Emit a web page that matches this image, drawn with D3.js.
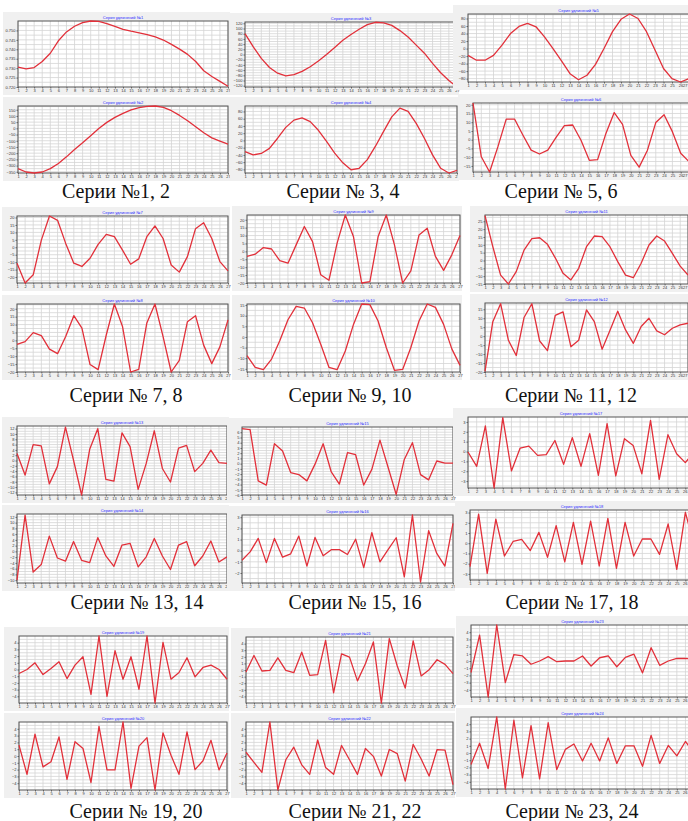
<!DOCTYPE html>
<html><head><meta charset="utf-8">
<script src="https://cdn.jsdelivr.net/npm/d3@7"></script>
<style>body{margin:0;background:#fff}svg{display:block}</style>
</head><body><svg id="c" width="688" height="821"></svg>
<script>
const xCats = [1,2,3,4,5,6,7,8,9,10,11,12,13,14,15,16,17,18,19,20,21,22,23,24,25,26,27];
const s1 = [0.7305,0.7296,0.7303,0.7335,0.7379,0.7445,0.7492,0.7522,0.7541,0.7550,0.7548,0.7536,0.7522,0.7506,0.7496,0.7487,0.7478,0.7466,0.7449,0.7426,0.7401,0.7373,0.7335,0.7286,0.7256,0.7230,0.7204];
const s2 = [-325,-352,-360,-352,-325,-284,-230,-171,-117,-60,-1,48,88,121,148,167,177,180,169,142,104,61,13,-36,-77,-103,-128];
const s3 = [80,30,-15,-50,-72,-82,-77,-65,-47,-25,0,27,55,77,97,115,124,122,112,92,67,36,5,-34,-70,-100,-125];
const s4 = [-31,-40,-36,-22,6,36,56,62,52,28,-3,-35,-62,-81,-77,-53,-16,25,65,89,80,47,6,-40,-77,-90,-83];
const s5 = [-18,-31,-31,-18,9,40,59,67,58,31,0,-33,-67,-83,-71,-42,0,45,78,92,80,45,-4,-53,-80,-89,-80];
const s6 = [21,-9.8,-18.5,-4.0,11.8,11.8,2.7,-6.0,-8.2,-6.0,1.3,8.0,8.4,-0.3,-11.8,-11.4,3.6,15.5,8.8,-9.0,-15.7,-6.0,9.8,14.3,4.6,-7.8,-12.6];
const s7 = [-10.7,-24,-18.5,4.8,21,18.1,2.6,-10.7,-12.9,-7.4,1.9,8.6,7.1,-1.9,-11.4,-7.8,7.1,14.3,5.9,-11.9,-16.7,-6.3,12.5,16.5,5.9,-9.6,-15.9];
const s8 = [-2.5,-0.8,4.9,3.0,-5.5,-8.4,2.4,15.6,7.7,-15.3,-18.5,3.4,23,8.8,-20,-18.3,11,23,2.4,-20,-12.6,11.8,15.6,-3,-14.7,-4.1,13];
const s9 = [-3.2,-1.8,2.4,1.5,-5.9,-7.5,4.1,15.7,6.2,-14.8,-18.3,5.2,23,9.2,-20,-19.1,9.2,23,4.1,-20,-12.3,10.4,14.6,-3.2,-12,-2.2,10.1];
const s10 = [-8.8,-14.3,-15.4,-10.4,-1.8,8.1,14.4,13.6,6.7,-3.4,-14.3,-15.4,-6.6,5.9,15.5,15.2,7.5,-5,-15.7,-15.3,-5,7.5,15.5,13.9,5.9,-5.6,-13.4];
const s11 = [28.6,8.8,-9.3,-15,-7.1,6.6,14,14.5,10.3,1.7,-8.2,-12.4,-5,8.8,15.6,15.2,8.8,-0.7,-9.3,-11,-1.8,9.9,15.6,12.4,4.5,-3.6,-9.3];
const s12 = [-19.6,8.1,18.1,-2.3,-10.8,10.4,18.1,-2.7,-8.1,11.6,13.5,-5.9,-2.3,14.7,8.1,-7.3,3.1,13.9,3.5,-4,5.4,10,2.9,0.8,4.4,6.3,7.2];
const s13 = [2.6,-5.5,6,5.5,-8.8,-2.3,12.6,0.1,-13,4.2,12,-7.1,-7.8,10.4,5.2,-10.9,-1.1,11.2,-3,-8.1,4.7,5.7,-4.2,-1.1,3.9,-0.8,-1.1];
const s14 = [-10,12.6,-7.2,-4.6,5.3,-2.3,-3.4,3.4,-3.1,-3.9,4.8,-1.6,-5.2,2.2,2.8,-5.4,-1.9,4.5,-1.6,-6.3,2.2,3.4,-5,-1.6,3.6,-3.7,-1.9];
const s15 = [6.7,6.5,-3.3,-4.1,3.8,2.4,-1.7,-2.1,-3.3,-0.1,3.8,-1.6,-3.9,2.1,1.7,-4.1,-1.1,4.5,-0.7,-5.9,0.8,4,-2.1,-3.1,0.5,0.1,0.1];
const s16 = [-0.86,-0.11,1.1,-1.07,1.1,-0.58,-0.28,1.31,-1.38,1.19,-0.46,0.09,0.09,-0.34,1.03,-1.52,1.61,-1.01,0.09,1.16,-2.35,3.2,-2.81,1.8,-0.25,-1.38,2.45];
const s17 = [-0.05,-1.5,2.59,-3.7,3.43,-1.97,0.35,0.55,-0.39,-0.32,1.12,-1.3,1.41,-1.5,1.81,-2.42,2.82,-2.48,1.3,0.62,-2.26,3.16,-2.82,1.7,-0.22,-1.13,-0.05];
const s18 = [-2.3,2.84,-2.95,2.36,-1.25,0.17,0.37,-0.72,1.06,-1.38,1.72,-1.82,2.04,-2.07,2.17,-2.23,2.43,-2.46,2.04,-1.25,0.41,0.41,-1.09,1.88,-2.56,3.02,-0.18];
const s19 = [-0.6,0,1,-0.75,0.15,1.15,-1.35,0.65,1.9,-3.7,5,-4,2.8,-1.45,1.9,-2.95,5,-5,4.05,-1.45,-0.45,1.75,-1.1,0.3,0.65,0,-1.45];
const s20 = [1.6,-2.7,3.2,-1.6,-0.85,2.8,-3.45,2.1,1.1,-3.9,4.35,-2.05,-2.05,5,-4.75,1.45,2.7,-5,3.4,0.1,-2.7,3.55,-2,-0.7,2.3,-2.05,0.45];
const s21 = [-0.3,2.2,-0.15,-0.05,1.85,-0.05,-0.4,2.7,-0.8,-0.7,4.5,-3.45,2.45,1.95,-1.65,0.95,4.25,-5,4.75,0.6,-2.75,4.4,-0.9,0.05,1.55,0.85,-0.55];
const s22 = [0.55,-0.95,-2.4,5,-5,-0.55,1.3,-1.3,-2.7,2.35,-1.7,-2.7,1.55,-0.55,-2.7,1.1,-0.05,-2.95,0.95,0.35,-3.7,1.7,-0.45,-2.95,0.95,0.85,-4.2];
const s23 = [-1.6,3.6,-5,5,-3,0.9,0.7,-0.45,0,0.6,-0.1,0,0,0.7,-0.7,0.45,0.7,-0.8,0.5,0.95,-1.65,1.85,-0.6,0,0.35,0.35,0.3];
const s24 = [-1.6,1.35,-2.15,5,-5,4.55,-3.45,3.8,-3.6,4.2,-2.3,0.5,1.25,-1.1,1.35,-1.1,2.1,-1.45,1,1,-1.85,2.45,-1.45,1.05,-0.4,1.6,0];
const series = [s1,s2,s3,s4,s5,s6,s7,s8,s9,s10,s11,s12,s13,s14,s15,s16,s17,s18,s19,s20,s21,s22,s23,s24];

const yDomains = [[0.720,0.755],[-360,180],[-125,125],[-90,95],[-89,92],[-18.5,21],[-24,21],[-20,23],[-20,23],[-16.5,15.5],[-15,29],[-20,18.5],
  [-13,13],[-11,13],[-6,7],[-2.9,3.2],[-3.7,3.5],[-3.6,3.25],[-5,5],[-5,5],[-5,5],[-5,5],[-5,5],[-5,5]];
const yTickStart = [0.720,-350,-120,-80,-80,-15,-20,-20,-20,-15,-15,-20,-12,-10,-6,-2,-3,-3,-4,-4,-4,-4,-4,-4];
const yTickEnd   = [0.750,150,120,80,80,20,20,20,20,15,25,15,12,12,6,3,3,3,4,4,4,4,4,4];
const yTickStep  = [0.005,50,20,20,20,5,5,5,5,5,5,5,2,2,1,1,1,1,1,1,1,1,1,1];
const titles = series.map((_, i) => "Серия удлинений №" + (i + 1));
const captions = ["Серии №1, 2","Серии № 3, 4","Серии № 5, 6","Серии № 7, 8","Серии № 9, 10","Серии № 11, 12",
  "Серии № 13, 14","Серии № 15, 16","Серии № 17, 18","Серии № 19, 20","Серии № 21, 22","Серии № 23, 24"];

// layout (plot rectangles x0,y0,x1,y1)
const plots = [
  [18,21,228,87],[18,106,228,173],
  [245,22,457,87],[245,106,457,173],
  [468,14,689,82],[473,103,689,172],
  [17,216,228,283],[17,304,228,372],
  [247,215,460,283],[247,304,460,372],
  [485,215,688,284],[485,303,688,372],
  [17,426,227,495],[17,514,227,583],
  [242,427,453,495],[242,515,453,583],
  [468,417,694,488],[470,510,694,580],
  [19,636,227,703],[19,722,227,790],
  [246,637,453,703],[246,722,453,790],
  [471,625,694,697],[471,717,694,789]
];
const captionPos = [[116,198],[343,198],[561,198],[126,402],[350,402],[571,402],[137,609],[355,609],[572,609],[136,818],[355,818],[572,818]];
const W = 688;

const svg = d3.select("#c");
svg.append("rect").attr("width",688).attr("height",821).attr("fill","#fff");

series.forEach((vals, i) => {
  const [x0,y0,x1,y1] = plots[i];
  const g = svg.append("g");
  g.append("rect").attr("x",x0-15).attr("y",y0-9).attr("width",x1-x0+17).attr("height",y1-y0+17)
    .attr("fill","#f0f0f0");
  g.append("rect").attr("x",x0).attr("y",y0).attr("width",x1-x0).attr("height",y1-y0).attr("fill","#fff");
  const x = d3.scaleLinear().domain([1,27]).range([x0,x1]);
  const y = d3.scaleLinear().domain(yDomains[i]).range([y1,y0]);
  const ticks = d3.range(yTickStart[i], yTickEnd[i] + yTickStep[i]*0.01, yTickStep[i]);
  const half = d3.range(yTickStart[i] - yTickStep[i], yTickEnd[i] + yTickStep[i]*1.01, yTickStep[i]/2)
    .filter(v => v > yDomains[i][0] && v < yDomains[i][1]);
  g.append("g").selectAll("line").data(xCats).join("line")
    .attr("x1",d=>x(d)).attr("x2",d=>x(d)).attr("y1",y0).attr("y2",y1)
    .attr("stroke","#d4d4d4").attr("stroke-width",0.8);
  g.append("g").selectAll("line").data(half).join("line")
    .attr("x1",x0).attr("x2",x1).attr("y1",d=>y(d)).attr("y2",d=>y(d))
    .attr("stroke","#d4d4d4").attr("stroke-width",0.8);
  const fmt = i === 0 ? d3.format(".3f") : d3.format("");
  const ax = g.append("g").attr("transform",`translate(0,${y1})`)
    .call(d3.axisBottom(x).tickValues(xCats.filter(v => x(v) < W + 2)).tickSize(1.5).tickPadding(1).tickFormat(d3.format("d")));
  const ay = g.append("g").attr("transform",`translate(${x0},0)`)
    .call(d3.axisLeft(y).tickValues(ticks).tickSize(1.5).tickPadding(1).tickFormat(fmt));
  [ax, ay].forEach(a => {
    a.select(".domain").remove();
    a.selectAll("line").attr("stroke","#666");
    a.selectAll("text").attr("font-size",4).attr("font-family","Liberation Sans, Arial").attr("fill","#333");
  });
  ax.selectAll(".tick").filter(d => x(d) > W - 5).select("text").attr("text-anchor","end").attr("x",W - x(ax.datum ? 0 : 0) ? 0 : 0);
  ax.selectAll(".tick").filter(d => x(d) > W - 5).select("text").attr("dx", d => (W - 1 - x(d)) + "px");
  g.append("rect").attr("x",x0).attr("y",y0).attr("width",x1-x0).attr("height",y1-y0)
    .attr("fill","none").attr("stroke","#555").attr("stroke-width",1);
  g.append("text").attr("x",(x0+x1)/2).attr("y",y0-2.5).attr("text-anchor","middle")
    .attr("font-size",4).attr("font-family","Liberation Sans, Arial").attr("fill","#2a2aff").text(titles[i]);
  const line = d3.line().x((d,k)=>x(xCats[k])).y(d=>y(d));
  g.append("path").datum(vals).attr("d",line).attr("fill","none")
    .attr("stroke","#e2303a").attr("stroke-width",1.3).attr("stroke-linejoin","round");
});

svg.append("g").selectAll("text").data(captions).join("text")
  .attr("x",(d,i)=>captionPos[i][0]).attr("y",(d,i)=>captionPos[i][1])
  .attr("text-anchor","middle").attr("font-family","Liberation Serif, Times New Roman, serif")
  .attr("font-size",20).attr("fill","#111").text(d=>d);
</script></body></html>
